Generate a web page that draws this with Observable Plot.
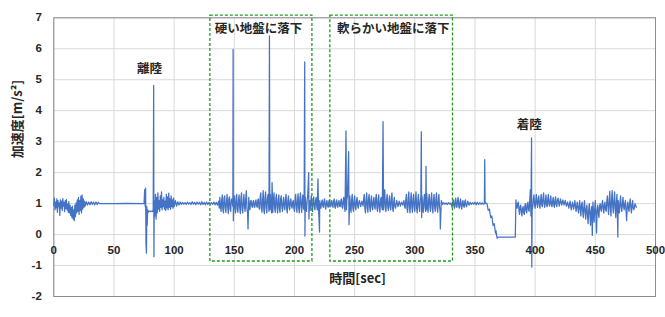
<!DOCTYPE html>
<html>
<head>
<meta charset="utf-8">
<script src="https://cdn.jsdelivr.net/npm/d3@7"></script>
<script src="https://cdn.jsdelivr.net/npm/@observablehq/plot@0.6"></script>
<style>
  html, body { margin: 0; padding: 0; background: #fff; }
  svg { display: block; }
</style>
</head>
<body>
<div id="chart"></div>
<script>
// ---- data (time [sec], acceleration [m/s²]) ----
const preFlight = [
  [0,0.95],[0.5,1.18],[1,0.8],[1.5,1.05],[2,0.86],[2.5,1.15],[3,0.72],[3.5,1.1],[4,0.9],[4.5,1.02],
  [5,0.62],[5.5,1.12],[6,0.85],[6.5,1.08],[7,0.78],[7.5,1.16],[8,0.92],[8.5,1.04],[9,0.74],[9.5,1.1],
  [10,0.84],[10.5,1.13],[11,0.8],[11.5,0.98],[12,0.72],[12.5,1.06],[13,0.7],[13.5,0.95],[14,0.62],
  [14.5,0.88],[15,0.55],[15.5,0.92],[16,0.5],[16.5,0.8],[17,0.45],[17.5,0.95],[18,0.58],[18.5,1.02],
  [19,0.7],[19.5,1.12],[20,0.75],[20.5,1.2],[21,0.65],[21.5,1.1],[22,0.78],[22.5,1.24],[23,0.7],
  [23.5,1.28],[24,0.82],[24.5,1.15],[25,0.88],[25.5,1.08],[26,0.92],[27,1.06],[28,0.95],[29,1.05],
  [30,0.96],[31,1.06],[32,0.97],[33,1.05],[34,0.96],[35,1.05],[36,0.97],[37,1.04],[38,1.0],
  [50,1.0],[60,1.01],[75,1.0]
];
const takeoff = [
  [75.5,1.45],[76,0.9],[76.3,1.5],[76.6,-0.3],[77,-0.6],[77.3,0.9],[77.6,0.3],[78,0.8],[78.5,0.72],
  [79,0.76],[80,0.74],[81,0.76],[82,0.74],[82.6,0.8],[83,4.82],[83.2,-0.72],[83.5,1.1],[84,0.6],
  [84.5,1.3],[85,0.5],[85.5,1.2],[86,0.7],[86.5,1.35],[87,0.82],[87.5,1.1],[88,0.75],[88.5,1.25],
  [89,0.88],[89.5,1.38],[90,0.8],[90.5,1.12],[91,0.9],[91.5,1.2],[92,0.82],[92.5,1.08],[93,0.78],
  [93.5,1.3],[94,0.86],[94.5,1.22],[95,0.8],[95.5,1.34],[96,0.88],[96.5,1.15],[97,0.82],[97.5,1.25],
  [98,0.9],[98.5,1.12],[99,0.85],[99.5,1.18],[100,0.9],[101,1.1],[102,0.92],[103,1.06],[104,0.95],
  [105,1.05],[106,0.97],[107,1.04],[108,0.98],[109,1.03],[110,0.97],[111,1.05],[112,0.98],[113,1.03],
  [114,0.97],[115,1.06],[116,0.98],[117,1.04],[118,0.96],[119,1.05],[120,0.98],[121,1.04],[122,0.96],
  [123,1.06],[124,0.97],[125,1.04],[126,0.96],[127,1.05],[128,0.97],[129,1.04],[130,0.98],[131,1.03],
  [132,0.97],[133,1.05],[134,0.96],[135,1.04],[136,0.95],[137,1.08]
];
const hardGround = [
  [137.5,0.85],[138,1.2],[138.5,0.9],[139,0.75],[139.5,1.1],[140,1.28],[140.5,0.8],[141,0.7],[141.5,1.18],
  [142,1.25],[142.5,0.85],[143,0.72],[143.5,1.05],[144,1.3],[144.5,0.9],[145,0.68],[145.5,1.15],[146,1.22],
  [146.5,0.82],[147,0.75],[147.5,1.12],[148,1.15],[148.8,0.9],[149,5.98],[149.2,0.45],[149.5,1.0],
  [150,1.25],[150.5,0.85],[151,0.7],[151.5,1.2],[152,1.3],[152.5,0.8],[153,0.72],[153.5,1.1],[154,1.28],
  [154.5,0.86],[155,0.68],[155.5,1.18],[156,1.35],[156.5,0.82],[157,0.7],[157.5,1.05],[158,1.3],
  [158.5,0.9],[159,0.75],[159.5,1.15],[160,1.42],[160.5,0.85],[161,0.7],[161.4,0.18],[162,1.2],
  [162.5,0.88],[163,0.8],[163.5,1.08],[164,1.1],[164.5,0.92],[165,0.88],[165.5,1.05],[166,1.1],
  [166.5,0.9],[167,0.88],[167.5,1.06],[168,1.12],[168.5,0.92],[169,0.88],[169.5,1.1],[170,1.15],
  [170.5,0.86],[171,0.82],[171.5,1.2],[172,1.35],[172.5,0.85],[173,0.72],[173.5,1.1],[174,1.42],
  [174.5,0.8],[175,0.68],[175.5,1.2],[176,1.38],[176.5,0.88],[177,0.7],[177.5,1.15],[178,1.3],
  [178.8,0.75],[179.2,6.42],[179.5,0.8],[180,1.3],[180.5,0.9],[181,0.7],[181.4,1.68],[182,0.72],
  [182.5,1.1],[183,1.35],[183.5,0.85],[184,0.72],[184.5,1.15],[185,1.3],[185.5,0.88],[186,0.7],
  [186.5,1.1],[187,1.28],[187.5,0.82],[188,0.72],[188.5,1.15],[189,1.25],[189.5,0.9],[190,0.75],
  [190.5,1.05],[191,1.2],[191.5,0.88],[192,0.8],[192.5,1.12],[193,1.3],[193.5,0.85],[194,0.7],
  [194.5,1.1],[195,1.25],[195.5,0.9],[196,0.8],[196.5,1.08],[197,1.15],[197.5,0.92],[198,0.85],
  [198.5,1.05],[199,1.1],[199.5,0.85],[200,0.75],[200.5,1.15],[201,1.3],[201.5,0.88],[202,0.72],
  [202.5,1.1],[203,1.32],[203.5,0.85],[204,0.7],[204.5,1.18],[205,1.35],[205.5,0.9],[206,0.72],
  [206.5,1.12],[207,1.28],[207.5,0.85],[208,0.8],[208.5,5.58],[208.7,-0.05],[209,1.2],[209.5,0.88],
  [210,0.75],[210.5,1.1],[211,1.25],[211.8,2.0],[212,0.5],[212.5,1.1],[213,0.78],[213.5,1.05],
  [214,1.25],[214.5,0.88],[215,0.75],[215.5,1.1],[216,1.22],[216.5,0.9],[217,0.8],[217.5,1.08],
  [218,1.2],[218.5,0.9],[219,0.8],[219.5,1.8],[220,0.85],[220.8,0.08],[221,1.1],[221.5,0.9],
  [222,0.85],[222.5,1.05],[223,1.12],[223.5,0.92],[224,0.88],[224.5,1.08],[225,1.15],[225.5,0.9],
  [226,0.82],[226.5,1.05],[227,1.1],[227.5,0.92],[228,0.88],[228.5,1.06],[229,1.12],[229.5,0.94],[230,0.9]
];
const softGround = [
  [230.5,1.05],[231,1.1],[231.5,0.92],[232,0.88],[232.5,1.08],[233,1.15],[233.5,0.9],[234,0.85],
  [234.5,1.05],[235,1.12],[235.5,0.92],[236,0.88],[236.5,1.06],[237,1.1],[237.5,0.92],[238,0.9],
  [238.5,1.08],[239,1.15],[239.5,0.9],[240,0.85],[240.5,1.1],[241,1.2],[241.5,0.9],[242,0.75],
  [242.8,3.35],[243.2,0.8],[243.5,1.1],[244,1.25],[245,2.68],[245.3,0.32],[246,1.25],[246.5,0.88],
  [247,0.72],[247.5,1.12],[248,1.3],[248.5,0.85],[249,0.75],[249.5,1.1],[250,1.25],[250.5,0.88],
  [251,0.8],[251.5,1.08],[252,1.2],[252.5,0.92],[253,0.85],[253.5,1.05],[254,1.1],[255,0.9],
  [256,1.08],[257,0.92],[257.5,1.15],[258,1.3],[258.5,0.85],[259,0.7],[259.5,1.12],[260,1.35],
  [260.5,0.88],[261,0.72],[261.5,1.15],[262,1.3],[262.5,0.9],[263,0.75],[263.5,1.1],[264,1.25],
  [264.5,0.88],[265,0.8],[265.5,1.08],[266,1.2],[266.5,0.9],[267,0.82],[267.5,1.15],[268,1.3],
  [268.5,0.88],[269,0.75],[269.5,1.12],[270,1.28],[270.5,0.85],[271,0.72],[271.5,1.1],[272,1.2],
  [272.5,0.9],[273,0.8],[273.6,3.65],[274,0.8],[274.5,1.1],[275,1.45],[275.5,0.88],[276,0.75],
  [276.5,1.12],[277,1.3],[277.5,0.9],[278,0.78],[278.5,1.08],[279,1.25],[279.5,0.88],[280,0.8],
  [280.5,1.15],[281,1.35],[281.5,0.85],[282,0.75],[282.5,1.05],[283,1.2],[283.5,0.9],[284,0.85],
  [285,1.1],[286,0.9],[287,1.08],[288,0.92],[289,1.05],[290,0.95],[291,1.1],[291.5,0.9],[292,0.85],
  [292.5,1.12],[293,1.3],[293.5,0.85],[294,0.72],[294.5,1.15],[295,1.38],[295.5,0.88],[296,0.7],
  [296.5,1.1],[297,1.35],[297.5,0.9],[298,0.72],[298.5,1.15],[299,1.3],[299.5,0.88],[300,0.75],
  [300.5,1.12],[301,1.38],[301.5,0.85],[302,0.7],[302.5,1.1],[303,1.3],[303.5,0.9],[304,0.75],
  [304.5,1.08],[305,1.2],[305.4,3.32],[305.7,0.55],[306,1.25],[306.5,0.9],[307,0.72],[307.5,1.1],
  [308,1.3],[308.5,0.88],[309,0.75],[309.3,2.2],[309.6,0.8],[310,1.32],[310.5,0.88],[311,0.72],
  [311.5,1.12],[312,1.3],[312.5,0.9],[313,0.75],[313.5,1.15],[314,1.35],[314.5,0.85],[315,0.7],
  [315.5,1.1],[316,1.3],[316.5,0.9],[317,0.75],[317.5,1.12],[318,1.35],[318.5,0.88],[319,0.72],
  [319.5,1.1],[320,1.3],[320.5,0.9],[321,0.75],[321.2,0.18],[322,1.1],[323,0.97],[324,1.03],
  [325,0.98],[326,1.02],[327,0.97],[328,1.03],[329,0.98],[330,1.02]
];
const descent = [
  [331,0.88],[331.5,1.05],[332,1.12],[332.5,0.92],[333,0.85],[333.5,1.08],[334,1.18],[334.5,0.9],
  [335,0.88],[335.5,1.1],[336,1.2],[336.5,0.92],[337,0.85],[337.5,1.05],[338,1.15],[338.5,0.9],
  [339,0.82],[339.5,1.05],[340,1.1],[340.5,0.92],[341,0.88],[341.5,1.06],[342,1.12],[342.5,0.94],
  [343,0.9],[344,1.08],[345,0.95],[346,1.04],[347,0.97],[348,1.03],[349,0.98],[350,1.05],[351,0.96],
  [352,1.04],[353,0.97],[354,1.03],[355,0.98],[356,1.02],[357,0.98],[357.8,1.0],[358.1,2.42],
  [358.4,1.0],[359,1.02],[360,1.0],[361,0.78],[362,0.82],[363,0.55],[364,0.6],[365,0.3],[366,0.35],
  [367,0.05],[367.5,0.12],[368,-0.05],[368.5,-0.12],[369,-0.08],[383.5,-0.08]
];
const landing = [
  [384,1.12],[384.5,0.92],[385,0.85],[385.5,1.0],[386,1.05],[386.5,0.8],[387,0.65],[387.5,0.9],
  [388,0.95],[388.5,0.72],[389,0.6],[389.5,0.85],[390,0.9],[390.5,0.7],[391,0.65],[391.5,0.95],
  [392,1.0],[392.5,0.75],[393,0.7],[393.5,0.98],[394,1.05],[394.5,0.8],[395,0.75],[396,1.45],
  [396.5,0.6],[397,3.12],[397.2,-1.05],[397.5,0.8],[398,0.9],[398.5,1.15],[399,1.28],[399.5,0.95],
  [400,0.85],[400.5,1.1],[401,1.3],[401.5,0.98],[402,0.88],[402.5,1.15],[403,1.25],[403.5,0.95],
  [404,0.85],[404.5,1.12],[405,1.3],[405.5,0.95],[406,0.9],[406.5,1.18],[407,1.35],[407.5,0.98],
  [408,0.88],[408.5,1.1],[409,1.28],[409.5,0.95],[410,0.9],[410.5,1.15],[411,1.3],[411.5,0.98],
  [412,0.92],[412.5,1.1],[413,1.25],[413.5,0.96],[414,0.9],[414.5,1.08],[415,1.2],[415.5,0.95],
  [416,0.88],[416.5,1.12],[417,1.22],[417.5,0.96],[418,0.9],[418.5,1.1],[419,1.18],[420,0.92],
  [421,1.15],[422,0.95],[423,1.12],[424,0.95],[425,1.1],[426,0.92],[427,1.05],[428,0.85],[429,1.08],
  [430,0.8],[431,1.05],[432,0.82],[433,1.1],[434,0.75],[435,1.05],[436,0.7],[437,1.1],[437.5,0.8],
  [438,0.6],[438.5,0.95],[439,1.05],[439.5,0.75],[440,0.55],[440.5,0.9],[441,1.1],[441.5,0.7],
  [442,0.5],[442.5,0.85],[443,0.95],[443.5,0.6],[444,0.35],[444.5,0.8],[445,1.0],[445.5,0.65],
  [446,0.3],[446.5,0.75],[447,0.9],[447.5,-0.03],[448,1.05],[448.5,0.7],[449,0.4],[449.5,0.85],
  [450,1.1],[450.5,0.6],[451,0.05],[451.5,0.8],[452,0.95],[452.5,0.7],[453,0.55],[453.5,0.9],
  [454,1.0],[454.5,0.82],[455,0.75],[455.5,0.98],[456,1.1],[456.5,0.85],[457,0.7],[457.5,0.95],
  [458,1.05],[458.5,0.8],[459,0.75],[459.5,1.05],[460,1.25],[460.5,0.9],[461,0.65],[461.5,1.1],
  [462,1.4],[462.5,0.85],[463,0.6],[463.5,1.15],[464,1.42],[464.5,0.9],[465,0.7],[465.5,1.1],
  [466,1.38],[466.5,0.85],[467,0.55],[467.5,1.05],[468,1.3],[468.7,-0.08],[469,1.1],[469.5,0.85],
  [470,0.7],[470.5,1.05],[471,1.25],[471.5,0.88],[472,0.75],[472.5,1.0],[473,1.2],[473.5,0.9],
  [474,0.8],[474.5,1.0],[475,1.1],[476,0.45],[476.5,0.9],[477,1.05],[477.5,0.85],[478,0.75],
  [478.5,1.0],[479,1.15],[479.5,0.88],[480,0.7],[480.5,0.95],[481,1.1],[481.5,0.85],[482,0.8],
  [483,1.0],[484,0.88]
];

const xTicks = [0, 50, 100, 150, 200, 250, 300, 350, 400, 450, 500];
const yTicks = [-2, -1, 0, 1, 2, 3, 4, 5, 6, 7];

const annotations = [
  {label: "離陸", t: 79.5, a: 5.36},
  {label: "硬い地盤に落下", t: 170, a: 6.65},
  {label: "軟らかい地盤に落下", t: 282, a: 6.65},
  {label: "着陸", t: 395, a: 3.55}
];
const boxes = [
  {t1: 130.1, t2: 214.9, a1: -0.87, a2: 7.07},
  {t1: 229.8, t2: 331.7, a1: -0.87, a2: 7.07}
];

const samples = [...preFlight, ...takeoff, ...hardGround, ...softGround, ...descent, ...landing]
  .map(([t, a]) => ({t, a}));

const font = "'Liberation Sans', 'Noto Sans CJK JP', sans-serif";
const jfont = "'Noto Sans CJK JP', sans-serif";

const chart = Plot.plot({
  width: 665,
  height: 317,
  marginLeft: 53.3,
  marginRight: 10,
  marginTop: 17.3,
  marginBottom: 21,
  style: {fontFamily: font, background: "#fff"},
  x: {domain: [0, 500], axis: null},
  y: {domain: [-2, 7], axis: null},
  marks: [
    Plot.gridY(yTicks, {stroke: "#d9d9d9", strokeOpacity: 1}),
    Plot.gridX(xTicks, {stroke: "#d9d9d9", strokeOpacity: 1}),
    Plot.frame({stroke: "#8c8c8c"}),
    Plot.line(samples, {x: "t", y: "a", stroke: "#4472C4", strokeWidth: 1.25}),
    Plot.rect(boxes, {x1: "t1", x2: "t2", y1: "a1", y2: "a2", fill: "none", stroke: "#1f9a1f", strokeWidth: 1.3, strokeDasharray: "3,2"}),
    Plot.text(yTicks, {x: 0, y: d => d, text: d => String(d), textAnchor: "end", dx: -12, fontSize: 11.5, fontWeight: "bold", fill: "#262626"}),
    Plot.text(xTicks, {x: d => d, y: 0, text: d => String(d), dy: 16, fontSize: 11.5, fontWeight: "bold", fill: "#262626"}),
    Plot.text(annotations, {x: "t", y: "a", text: "label", fontSize: 12.5, fontWeight: "bold", fill: "#262626", fontFamily: jfont}),
    Plot.text(["時間[sec]"], {frameAnchor: "bottom", dy: -14, dx: 3, fontSize: 13, fontWeight: "bold", fill: "#262626", fontFamily: jfont}),
    Plot.text(["加速度[m/s²]"], {frameAnchor: "left", dx: -36, dy: 1, rotate: -90, fontSize: 13, fontWeight: "bold", fill: "#262626", fontFamily: jfont})
  ]
});
document.getElementById("chart").appendChild(chart);
</script>
</body>
</html>
